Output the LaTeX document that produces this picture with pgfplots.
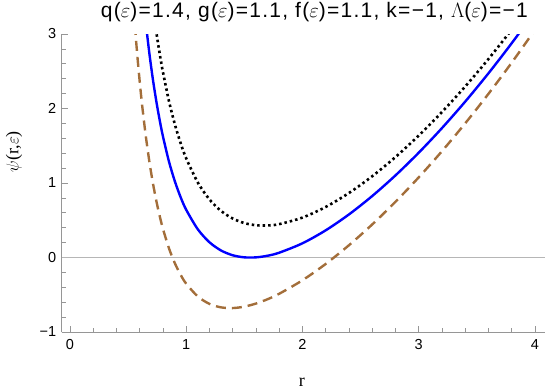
\documentclass[border=0pt]{standalone}
\usepackage{pgfplots}
\pgfplotsset{compat=1.18}
\usepackage{fontspec}
\setmainfont{Liberation Sans}
\newfontfamily\serif{Liberation Serif}
\newfontfamily\titlefont[LetterSpace=6]{Liberation Sans}
\definecolor{mbrown}{RGB}{163,110,58}
\definecolor{axgray}{RGB}{150,150,150}
\begin{document}
\begin{tikzpicture}
\path[use as bounding box] (-61.7pt,-57pt) rectangle (483.3pt,332pt);
\begin{axis}[
  at={(0pt,0pt)}, anchor=south west,
  scale only axis, width=483.3pt, height=298pt,
  xmin=-0.0714, xmax=4.086, ymin=-1, ymax=3,
  axis x line*=bottom, axis y line*=left,
  axis line style={axgray, line width=0.8pt},
  tick style={axgray, line width=0.7pt},
  tick align=inside,
  major tick length=6.5pt, minor tick length=3.8pt,
  minor x tick num=4, minor y tick num=4,
  xtick={0,1,2,3,4}, xticklabels={0,1,2,3,4},
  ytick={-1,0,1,2,3}, yticklabels={−1,0,1,2,3},
  tick label style={font=\fontsize{14.5}{16}\selectfont},
  xticklabel style={yshift=-4pt},
  yticklabel style={xshift=-2pt},
  clip mode=individual,
  title={q($\varepsilon$)=1.4, g($\varepsilon$)=1.1, f($\varepsilon$)=1.1, k=−1, $\Lambda$($\varepsilon$)=−1},
  title style={font=\fontsize{21}{23}\selectfont\titlefont, at={(axis description cs:0.523,1.055)}, anchor=center, inner sep=0pt},
  xlabel={r},
  xlabel style={font=\fontsize{18}{20}\selectfont\serif, at={(axis description cs:0.497,-0.168)}, anchor=center, inner sep=0pt},
  ylabel={$\psi$(r,$\varepsilon$)},
  ylabel style={font=\fontsize{18}{20}\selectfont\serif, at={(axis description cs:-0.0987,0.605)}, anchor=center, inner sep=0pt},
]
\addplot[axgray!70, line width=0.8pt, forget plot] coordinates {(-0.0714,0) (4.086,0)};
% black dotted
\addplot[black, line width=2.6pt, dash pattern=on 2.5pt off 3pt, smooth] coordinates {
(0.65,4.242) (0.70,3.522) (0.72,3.276) (0.75,2.948) (0.78,2.658) (0.80,2.4855)
(0.85,2.108) (0.90,1.799) (0.95,1.542) (1.0,1.3295) (1.1,1.005) (1.2,0.779)
(1.3,0.6244) (1.4,0.5229) (1.5,0.462) (1.6,0.4332) (1.7,0.4299) (1.8,0.448)
(2.0,0.536) (2.2,0.679) (2.4,0.8662) (2.6,1.091) (2.8,1.3489) (3.0,1.6371)
(3.2,1.9533) (3.4,2.2965) (3.6,2.6652) (3.8,3.0588)
};
% blue solid
\addplot[blue, line width=2.4pt, smooth] coordinates {
(0.60,4.008) (0.62,3.651) (0.65,3.180) (0.68,2.775) (0.70,2.536) (0.72,2.318)
(0.75,2.028) (0.78,1.774) (0.80,1.623) (0.85,1.296) (0.90,1.032) (0.95,0.816)
(1.0,0.6395) (1.1,0.3776) (1.2,0.204) (1.3,0.0936) (1.4,0.030) (1.5,0.002)
(1.6,0.002) (1.7,0.024) (1.8,0.0647) (2.0,0.191) (2.2,0.3654) (2.4,0.5787)
(2.6,0.8256) (2.8,1.1025) (3.0,1.4071) (3.2,1.7377) (3.4,2.0935) (3.6,2.4735)
(3.8,2.8772) (4.0,3.3043)
};
% brown dashed
\addplot[mbrown, line width=2.4pt, dash pattern=on 10pt off 6pt, smooth] coordinates {
(0.54,3.55) (0.56,3.079) (0.58,2.696) (0.60,2.355) (0.62,2.051) (0.65,1.654) (0.68,1.316)
(0.70,1.119) (0.72,0.940) (0.75,0.705) (0.78,0.502) (0.80,0.383) (0.85,0.129)
(0.90,-0.070) (0.95,-0.228) (1.0,-0.3525) (1.1,-0.524) (1.2,-0.6227) (1.3,-0.6695)
(1.4,-0.6786) (1.5,-0.6593) (1.6,-0.618) (1.7,-0.5595) (1.8,-0.4864) (2.0,-0.305)
(2.2,-0.0856) (2.4,0.1654) (2.6,0.4441) (2.8,0.7482) (3.0,1.0764) (3.2,1.4277)
(3.4,1.8018) (3.6,2.1979) (3.8,2.6162) (4.0,3.0563)
};
\end{axis}
\end{tikzpicture}
\end{document}
